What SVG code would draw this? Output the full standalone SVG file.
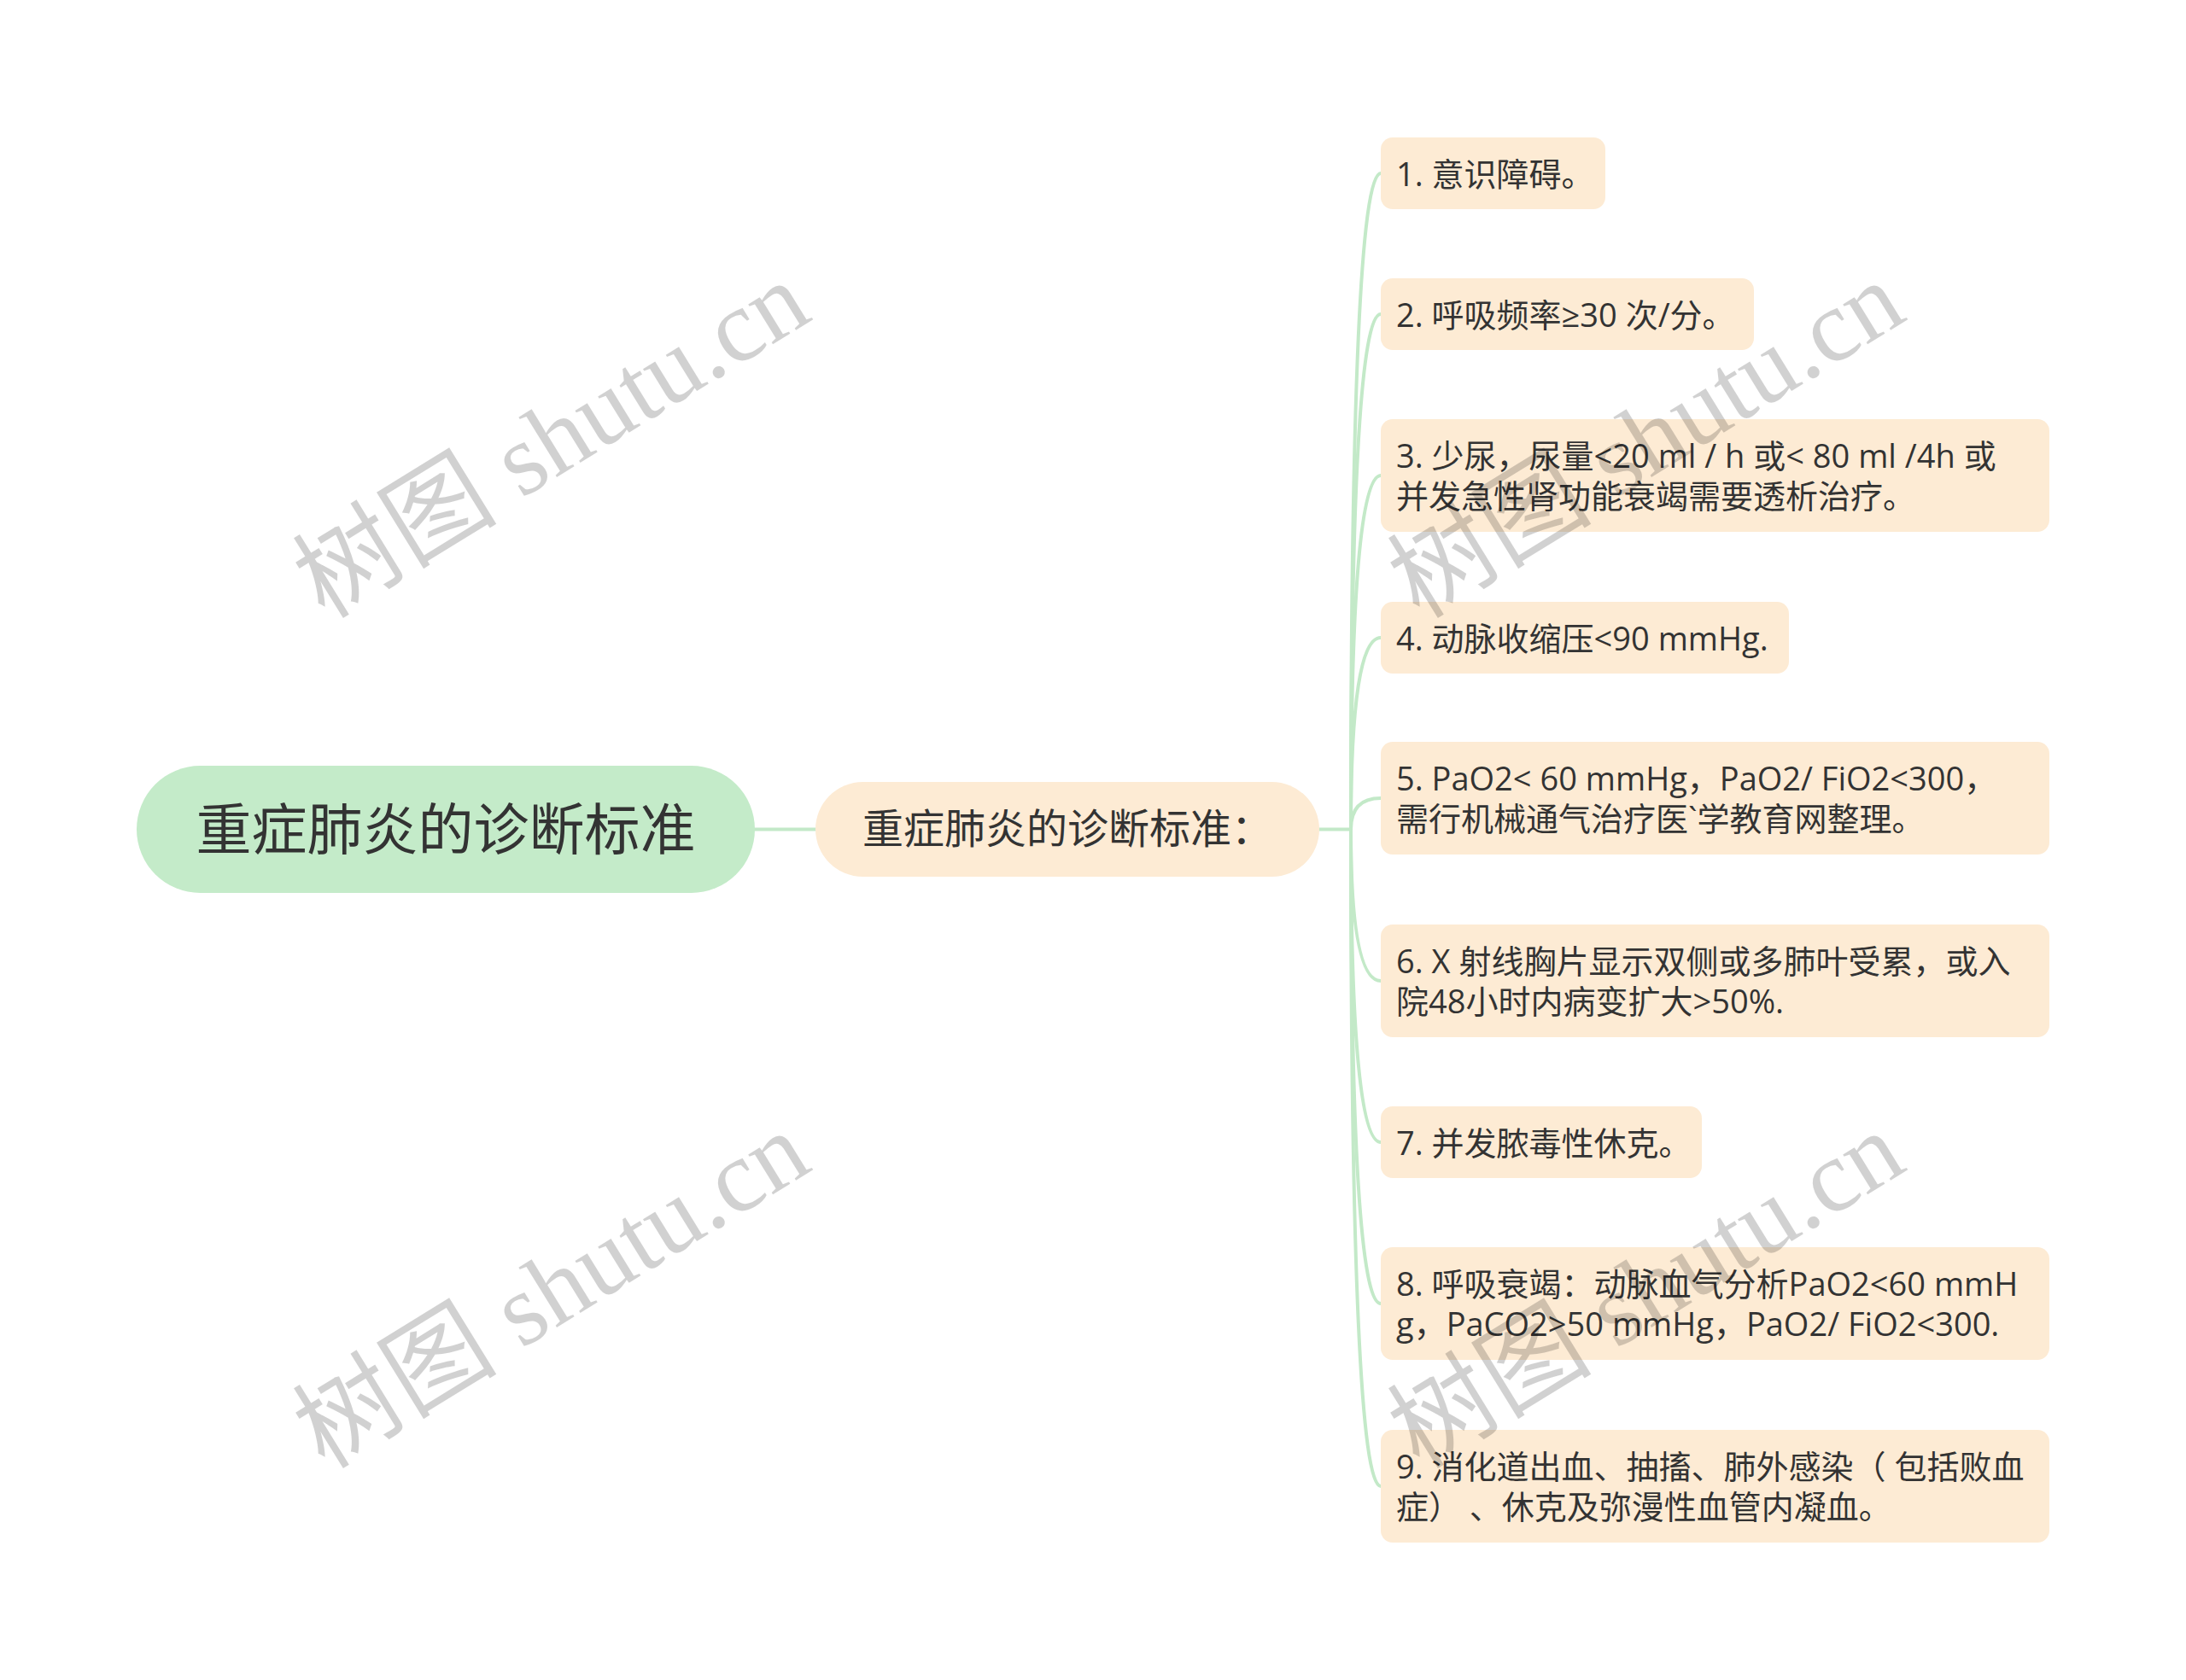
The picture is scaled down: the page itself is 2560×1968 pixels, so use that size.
<svg xmlns="http://www.w3.org/2000/svg" width="2560" height="1968" viewBox="0 0 2560 1968">
<style>
.bg{fill:#ffffff}
.conn{fill:none;stroke:#c3e9c8;stroke-width:4;stroke-linecap:round}
.root{fill:#c4ebc9}
.sub{fill:#fdebd4}
.item{fill:#fdebd4}
.t{font-family:"Open Sans","Noto Sans CJK SC",sans-serif;fill:#333333}
.rt{font-size:65px}
.st{font-size:48px}
.it{font-size:38px}
.wm{font-family:"Liberation Serif","Noto Sans CJK SC",serif;font-size:120px;fill:#000000;fill-opacity:0.18}
</style>
<rect class="bg" x="0" y="0" width="2560" height="1968"/>
<g id="connectors">
<path class="conn" d="M884 971.5 L955 971.5"/>
<path class="conn" d="M1545 971.5 L1582 971.5"/>
<path class="conn" d="M1582 971.5 Q1582 203 1617 203"/>
<path class="conn" d="M1582 971.5 Q1582 368 1617 368"/>
<path class="conn" d="M1582 971.5 Q1582 557 1617 557"/>
<path class="conn" d="M1582 971.5 Q1582 747 1617 747"/>
<path class="conn" d="M1582 971.5 Q1582 935 1617 935"/>
<path class="conn" d="M1582 971.5 Q1582 1149 1617 1149"/>
<path class="conn" d="M1582 971.5 Q1582 1338 1617 1338"/>
<path class="conn" d="M1582 971.5 Q1582 1527 1617 1527"/>
<path class="conn" d="M1582 971.5 Q1582 1741 1617 1741"/>
</g>
<g id="root">
<rect class="root" x="160" y="897" width="724" height="149" rx="74.5"/>
<text class="t rt" x="522" y="995" text-anchor="middle">重症肺炎的诊断标准</text>
</g>
<g id="sub">
<rect class="sub" x="955" y="916" width="590" height="111" rx="55.5"/>
<text class="t st" x="1250" y="988" text-anchor="middle">重症肺炎的诊断标准：</text>
</g>
<g id="item1">
<rect class="item" x="1617" y="161" width="263" height="84" rx="14"/>
<text class="t it" x="1635" y="218">1. 意识障碍。</text>
</g>
<g id="item2">
<rect class="item" x="1617" y="326" width="437" height="84" rx="14"/>
<text class="t it" x="1635" y="383">2. 呼吸频率≥30 次/分。</text>
</g>
<g id="item3">
<rect class="item" x="1617" y="491" width="783" height="132" rx="14"/>
<text class="t it" x="1635" y="548" xml:space="preserve">3. 少尿，尿量&lt;20 ml / h 或&lt; 80 ml /4h 或</text>
<text class="t it" x="1635" y="595">并发急性肾功能衰竭需要透析治疗。</text>
</g>
<g id="item4">
<rect class="item" x="1617" y="705" width="478" height="84" rx="14"/>
<text class="t it" x="1635" y="762">4. 动脉收缩压&lt;90 mmHg.</text>
</g>
<g id="item5">
<rect class="item" x="1617" y="869" width="783" height="132" rx="14"/>
<text class="t it" x="1635" y="926">5. PaO2&lt; 60 mmHg，PaO2/ FiO2&lt;300，</text>
<text class="t it" x="1635" y="973">需行机械通气治疗医`学教育网整理。</text>
</g>
<g id="item6">
<rect class="item" x="1617" y="1083" width="783" height="132" rx="14"/>
<text class="t it" x="1635" y="1140">6. X 射线胸片显示双侧或多肺叶受累，或入</text>
<text class="t it" x="1635" y="1187">院48小时内病变扩大&gt;50%.</text>
</g>
<g id="item7">
<rect class="item" x="1617" y="1296" width="376" height="84" rx="14"/>
<text class="t it" x="1635" y="1353">7. 并发脓毒性休克。</text>
</g>
<g id="item8">
<rect class="item" x="1617" y="1461" width="783" height="132" rx="14"/>
<text class="t it" x="1635" y="1518">8. 呼吸衰竭：动脉血气分析PaO2&lt;60 mmH</text>
<text class="t it" x="1635" y="1565">g，PaCO2&gt;50 mmHg，PaO2/ FiO2&lt;300.</text>
</g>
<g id="item9">
<rect class="item" x="1617" y="1675" width="783" height="132" rx="14"/>
<text class="t it" x="1635" y="1732" xml:space="preserve">9. 消化道出血、抽搐、肺外感染（ 包括败血</text>
<text class="t it" x="1635" y="1779" xml:space="preserve">症） 、休克及弥漫性血管内凝血。</text>
</g>
<g id="watermarks">
<text class="wm" x="645" y="556" text-anchor="middle" transform="rotate(-31.6 645 514)">树图 shutu.cn</text>
<text class="wm" x="1927" y="556" text-anchor="middle" transform="rotate(-31.6 1927 514)">树图 shutu.cn</text>
<text class="wm" x="645" y="1552" text-anchor="middle" transform="rotate(-31.6 645 1510)">树图 shutu.cn</text>
<text class="wm" x="1927" y="1552" text-anchor="middle" transform="rotate(-31.6 1927 1510)">树图 shutu.cn</text>
</g>
</svg>
